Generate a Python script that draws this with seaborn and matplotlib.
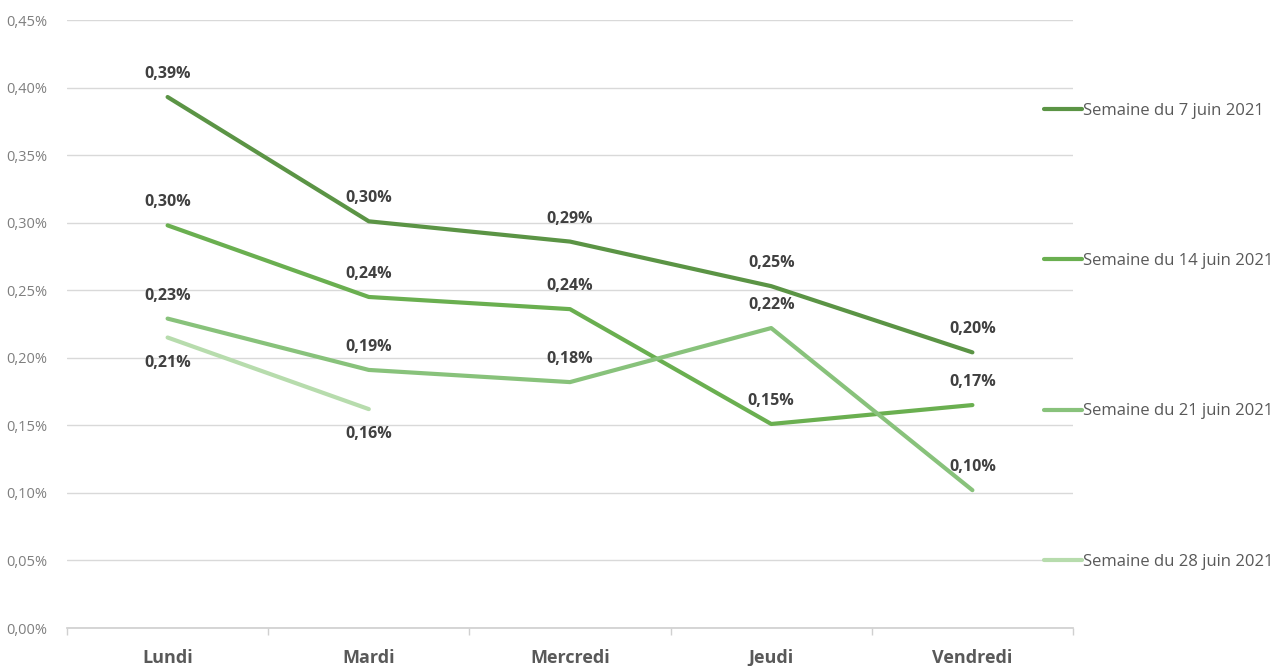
import matplotlib
matplotlib.use("Agg")
import matplotlib.pyplot as plt
from matplotlib.ticker import FixedLocator, FuncFormatter
import seaborn as sns
import pandas as pd

days = ["Lundi", "Mardi", "Mercredi", "Jeudi", "Vendredi"]
series_names = ["Semaine du 7 juin 2021", "Semaine du 14 juin 2021",
                "Semaine du 21 juin 2021", "Semaine du 28 juin 2021"]
s_7juin = [0.393, 0.301, 0.286, 0.253, 0.204]
s_14juin = [0.298, 0.245, 0.236, 0.151, 0.165]
s_21juin = [0.229, 0.191, 0.182, 0.222, 0.102]
s_28juin = [0.215, 0.162]
values = [s_7juin, s_14juin, s_21juin, s_28juin]

colors = ["#5B9445", "#6AAF50", "#88C27B", "#B7DCAD"]
label_below = [[False]*5, [False]*5, [False]*5, [True, True]]

rows = []
for name, vals in zip(series_names, values):
    for i, v in enumerate(vals):
        rows.append({"pos": i, "day": days[i], "value": v, "series": name})
df = pd.DataFrame(rows)

sns.set_theme(style="white")
plt.rcParams['font.family'] = ['Open Sans', 'DejaVu Sans']

fig = plt.figure(figsize=(12.85, 6.66), dpi=100)
ax = fig.add_axes([67/1285, 1-628/666, (1073-67)/1285, (628-20)/666])

sns.lineplot(data=df, x="pos", y="value", hue="series", hue_order=series_names,
             palette=colors, linewidth=3, ax=ax, legend=False, sort=False)

for name, vals, col, below in zip(series_names, values, colors, label_below):
    for i, v in enumerate(vals):
        txt = f"{v:.2f}".replace(".", ",") + "%"
        off = -18 if below[i] else 16.5
        ax.annotate(txt, (i, v), xytext=(0, off), textcoords="offset points",
                    ha="center", va="center", fontsize=11.5, fontweight="bold",
                    color="#404040")

ax.set_xlim(-0.5, 4.5)
ax.set_ylim(0, 0.45)
ax.yaxis.set_major_locator(FixedLocator([i*0.05 for i in range(10)]))
ax.yaxis.set_major_formatter(FuncFormatter(lambda v, p: f"{v:.2f}".replace(".", ",") + "%"))
ax.set_xticks(range(5))
ax.set_xticklabels(days)
ax.xaxis.set_minor_locator(FixedLocator([i - 0.5 for i in range(6)]))
ax.tick_params(axis="x", which="major", length=0, labelsize=13, labelcolor="#595959", pad=15)
for t in ax.get_xticklabels():
    t.set_fontweight("bold")
ax.tick_params(axis="x", which="minor", length=5, color="#D0D0D0", width=1, direction="out", bottom=True)
ax.tick_params(axis="y", length=0, labelsize=10.5, labelcolor="#7F7F7F", pad=14)
ax.grid(axis="y", color="#D9D9D9", linewidth=1)
ax.set_axisbelow(True)
for s in ["top", "right", "left"]:
    ax.spines[s].set_visible(False)
ax.spines["bottom"].set_color("#D0D0D0")
ax.set_xlabel("")
ax.set_ylabel("")

handles = [plt.Line2D([], [], color=c, linewidth=3) for c in colors]
leg = fig.legend(handles, series_names, loc="upper left",
                 bbox_to_anchor=(1029/1285, 1-88/666), frameon=False,
                 fontsize=12, handlelength=2.3, handletextpad=0.05,
                 labelspacing=8.05, labelcolor="#595959")

fig.savefig("out.png", dpi=100)
